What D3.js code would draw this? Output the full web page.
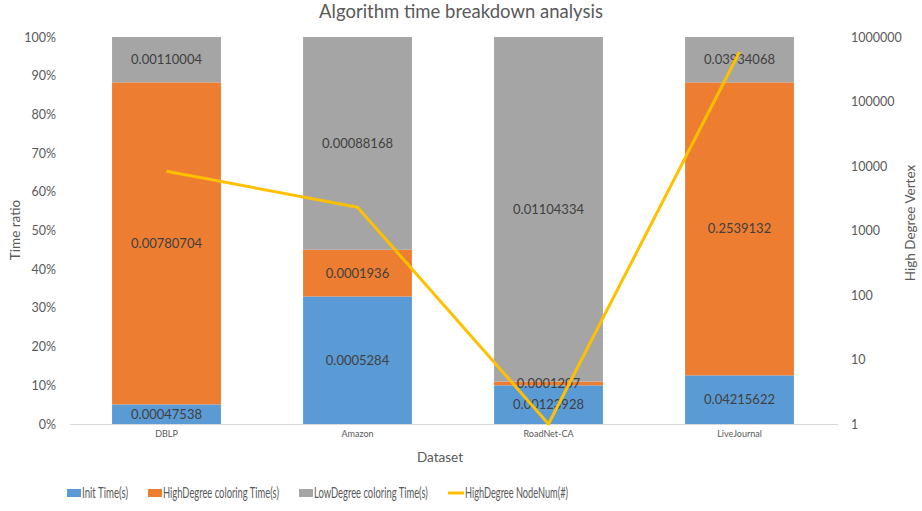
<!DOCTYPE html>
<html><head><meta charset="utf-8">
<script src="https://cdn.jsdelivr.net/npm/d3@7"></script>
<style>body{margin:0;background:#fff}svg{display:block}text{font-family:Lato,"Open Sans",sans-serif}</style>
</head><body><svg id="c" width="922" height="511"></svg>
<script>
const categories = ["DBLP","Amazon","RoadNet-CA","LiveJournal"];
const initTime = [0.00047538,0.0005284,0.00123928,0.04215622];
const highTime = [0.00780704,0.0001936,0.0001207,0.2539132];
const lowTime = [0.00110004,0.00088168,0.01104334,0.03934068];
const nodeNum = [8300,2300,1,585000];
const seriesNames = ["Init Time(s)","HighDegree coloring Time(s)","LowDegree coloring Time(s)","HighDegree NodeNum(#)"];
const leftTicks = [0,0.1,0.2,0.3,0.4,0.5,0.6,0.7,0.8,0.9,1];
const rightTicks = [1,10,100,1000,10000,100000,1000000];
const colors = ["#5B9BD5","#ED7D31","#A5A5A5","#FFC000"];

const svg = d3.select("#c");
const L=71, R=835, T=37, B=424;
const x = d3.scaleBand().domain(categories).range([L,R]).paddingInner(0.43).paddingOuter(0.215);
const y = d3.scaleLinear().domain([0,1]).range([B,T]);
const y2 = d3.scaleLog().domain([1,1000000]).range([B,T]);

const rows = categories.map((c,i)=>({c, v:[initTime[i],highTime[i],lowTime[i]]}));
rows.forEach(r=>{const s=d3.sum(r.v); let acc=0; r.seg=r.v.map(v=>{const a=acc; acc+=v/s; return [a,acc,v];});});

svg.append("text").attr("x",461).attr("y",18).attr("text-anchor","middle").attr("font-size",18.5).attr("fill","#595959").text("Algorithm time breakdown analysis");

// bars
rows.forEach(r=>{
  r.seg.forEach((s,k)=>{
    svg.append("rect").attr("x",x(r.c)).attr("width",x.bandwidth()).attr("y",y(s[1])).attr("height",y(s[0])-y(s[1])).attr("fill",colors[k]);
  });
});
// axis line
svg.append("line").attr("x1",L-1).attr("x2",R+3).attr("y1",B+0.5).attr("y2",B+0.5).attr("stroke","#D9D9D9");

// labels
rows.forEach(r=>{
  r.seg.forEach((s,k)=>{
    svg.append("text").attr("x",x(r.c)+x.bandwidth()/2).attr("y",(y(s[0])+y(s[1]))/2).attr("dy","0.35em").attr("text-anchor","middle").attr("font-size",13).attr("fill","#404040").text(String(s[2]));
  });
});

// line
const line = d3.line().x((d,i)=>x(categories[i])+x.bandwidth()/2).y(d=>y2(d));
svg.append("path").datum(nodeNum).attr("d",line).attr("fill","none").attr("stroke",colors[3]).attr("stroke-width",3).attr("stroke-linejoin","round");

// axes
const gl = svg.append("g").attr("transform",`translate(${L-12},0)`).call(d3.axisLeft(y).tickValues(leftTicks).tickFormat(d3.format(".0%")).tickSize(0));
gl.select(".domain").remove();
gl.selectAll("text").attr("font-size",12.5).attr("fill","#595959").attr("font-family","Lato");
const gr = svg.append("g").attr("transform",`translate(${R+13},0)`).call(d3.axisRight(y2).tickValues(rightTicks).tickFormat(d3.format("d")).tickSize(0));
gr.select(".domain").remove();
gr.selectAll("text").attr("font-size",12.5).attr("fill","#595959").attr("font-family","Lato");
const gb = svg.append("g").attr("transform",`translate(0,${B+4})`).call(d3.axisBottom(x).tickSize(0));
gb.select(".domain").remove();
gb.selectAll("text").attr("font-size",9).attr("fill","#595959").attr("font-family","Lato");

svg.append("text").attr("transform","translate(20,230) rotate(-90)").attr("text-anchor","middle").attr("font-size",13.5).attr("fill","#595959").text("Time ratio");
svg.append("text").attr("transform","translate(915,223) rotate(-90)").attr("text-anchor","middle").attr("font-size",13.5).attr("fill","#595959").text("High Degree Vertex");
svg.append("text").attr("x",440).attr("y",462).attr("text-anchor","middle").attr("font-size",13.5).attr("fill","#595959").text("Dataset");

// legend
const legX=[67,148,299,448];
const legW=[46,116,114,103];
seriesNames.forEach((n,i)=>{
  if(i<3) svg.append("rect").attr("x",legX[i]).attr("y",489).attr("width",14).attr("height",8).attr("fill",colors[i]);
  else svg.append("line").attr("x1",legX[i]).attr("x2",legX[i]+16).attr("y1",493).attr("y2",493).attr("stroke",colors[i]).attr("stroke-width",3);
  const g = svg.append("g");
  const t = g.append("text").attr("x",0).attr("y",0).attr("dy","0.35em").attr("font-size",15.5).attr("fill","#595959").text(n);
  const w = t.node().getComputedTextLength();
  g.attr("transform",`translate(${legX[i]+(i<3?15:17)},493) scale(${legW[i]/w},1)`);
});
</script></body></html>
